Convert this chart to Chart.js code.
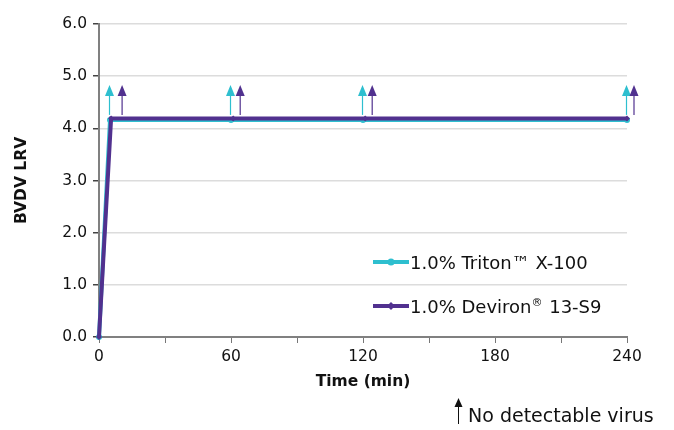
<!DOCTYPE html>
<html>
<head>
<meta charset="utf-8">
<script src="https://cdn.jsdelivr.net/npm/chart.js@4/dist/chart.umd.min.js"></script>
<style>
  html, body { margin: 0; padding: 0; background: #fff; }
  #wrap { width: 674px; height: 430px; }
</style>
</head>
<body>
<div id="wrap"><canvas id="lrvChart" width="674" height="430"></canvas></div>
<script>
// data
const timeTriton = [0, 5, 60, 120, 240];
const lrvTriton = [0, 4.16, 4.16, 4.16, 4.16];
const timeDeviron = [0, 5.5, 61, 121, 240];
const lrvDeviron = [0, 4.19, 4.19, 4.19, 4.19];
// time points where no virus was detected (arrows)
const arrowTimesTriton = [5, 60, 120, 240];
const arrowTimesDeviron = [5.5, 61, 121, 240];
const yTicks = [0, 1, 2, 3, 4, 5, 6];
const xLabels = [0, 60, 120, 180, 240];

const cyan = '#2ebfcf';
const purple = '#51318f';
const FONT = '"DejaVu Sans", Verdana, sans-serif';

function drawArrow(ctx, x, yBase, color) {
    ctx.save();
    ctx.strokeStyle = color;
    ctx.fillStyle = color;
    ctx.lineWidth = 1.2;
    ctx.beginPath();
    ctx.moveTo(x, yBase);
    ctx.lineTo(x, yBase - 20);
    ctx.stroke();
    ctx.beginPath();
    ctx.moveTo(x - 4.5, yBase - 19);
    ctx.lineTo(x + 4.5, yBase - 19);
    ctx.lineTo(x, yBase - 30);
    ctx.closePath();
    ctx.fill();
    ctx.restore();
}

// arrows, legend, axis titles and footnote
const extras = {
    id: 'extras',
    afterDatasetsDraw(chart) {
        const ctx = chart.ctx;
        const xs = chart.scales.x, ys = chart.scales.y;
        const base = ys.getPixelForValue(4.2) - 3;
        arrowTimesTriton.forEach(t => drawArrow(ctx, xs.getPixelForValue(t) - 0.5, base, cyan));
        arrowTimesDeviron.forEach((t, i) => drawArrow(ctx, xs.getPixelForValue(t) + (i === 0 ? 11 : 7), base, purple));

        ctx.save();
        // legend
        const items = [
            { parts: ['1.0% Triton\u2122 X-100'], color: cyan, y: 262, shape: 'circle' },
            { parts: ['1.0% Deviron', '\u00ae', ' 13-S9'], color: purple, y: 306, shape: 'diamond' }
        ];
        items.forEach(it => {
            ctx.strokeStyle = it.color;
            ctx.fillStyle = it.color;
            ctx.lineWidth = 4;
            ctx.beginPath();
            ctx.moveTo(373, it.y);
            ctx.lineTo(409, it.y);
            ctx.stroke();
            ctx.beginPath();
            if (it.shape === 'circle') {
                ctx.arc(391, it.y, 3.5, 0, Math.PI * 2);
            } else {
                ctx.moveTo(391, it.y - 4); ctx.lineTo(395, it.y); ctx.lineTo(391, it.y + 4); ctx.lineTo(387, it.y);
                ctx.closePath();
            }
            ctx.fill();
            ctx.fillStyle = '#111';
            ctx.textBaseline = 'alphabetic';
            ctx.textAlign = 'left';
            let x = 410;
            it.parts.forEach(p => {
                const sup = p === '\u00ae';
                ctx.font = (sup ? '11px ' : '18px ') + FONT;
                ctx.fillText(p, x, it.y + (sup ? 0 : 7));
                x += ctx.measureText(p).width + (sup ? 1 : 0);
            });
        });

        // axis titles
        ctx.fillStyle = '#111';
        ctx.font = 'bold 15.5px ' + FONT;
        ctx.textAlign = 'center';
        ctx.textBaseline = 'middle';
        ctx.fillText('Time (min)', (xs.left + xs.right) / 2, 382);
        ctx.save();
        ctx.translate(22, (ys.top + ys.bottom) / 2);
        ctx.rotate(-Math.PI / 2);
        ctx.fillText('BVDV LRV', 0, 0);
        ctx.restore();

        // footnote
        ctx.strokeStyle = '#111';
        ctx.fillStyle = '#111';
        ctx.lineWidth = 1;
        ctx.beginPath();
        ctx.moveTo(458.5, 424);
        ctx.lineTo(458.5, 404);
        ctx.stroke();
        ctx.beginPath();
        ctx.moveTo(454.5, 407); ctx.lineTo(462.5, 407); ctx.lineTo(458.5, 398);
        ctx.closePath();
        ctx.fill();
        ctx.font = '19px ' + FONT;
        ctx.textAlign = 'left';
        ctx.textBaseline = 'alphabetic';
        ctx.fillText('No detectable virus', 468, 422);
        ctx.restore();
    }
};

new Chart(document.getElementById('lrvChart').getContext('2d'), {
    type: 'line',
    data: {
        datasets: [
            {
                label: '1.0% Deviron\u00ae 13-S9',
                data: timeDeviron.map((t, i) => ({ x: t, y: lrvDeviron[i] })),
                borderColor: purple, backgroundColor: purple,
                borderWidth: 4, pointStyle: 'rectRot', pointRadius: 3, pointBorderWidth: 0,
                tension: 0, order: 1
            },
            {
                label: '1.0% Triton\u2122 X-100',
                data: timeTriton.map((t, i) => ({ x: t, y: lrvTriton[i] })),
                borderColor: cyan, backgroundColor: cyan,
                borderWidth: 4, pointStyle: 'circle', pointRadius: 3, pointBorderWidth: 0,
                tension: 0, order: 2
            }
        ]
    },
    options: {
        responsive: false,
        animation: false,
        clip: false,
        layout: { padding: { top: 24, right: 47, bottom: 0, left: 0 } },
        plugins: { legend: { display: false }, tooltip: { enabled: false } },
        scales: {
            x: {
                type: 'linear', min: 0, max: 240,
                afterBuildTicks: s => { s.ticks = [0, 30, 60, 90, 120, 150, 180, 210, 240].map(v => ({ value: v })); },
                afterFit: s => { s.height = 93; },
                ticks: {
                    autoSkip: false, maxRotation: 0, padding: 5,
                    color: '#111', font: { family: FONT, size: 15.5 },
                    callback: v => xLabels.includes(v) ? String(v) : ''
                },
                grid: { drawOnChartArea: false, tickLength: 6, color: '#777', tickColor: '#777' },
                border: { color: '#808080', width: 2 }
            },
            y: {
                min: 0, max: 6,
                afterBuildTicks: s => { s.ticks = yTicks.map(v => ({ value: v })); },
                afterFit: s => { s.width = 99; },
                ticks: {
                    padding: 6, color: '#111', font: { family: FONT, size: 15.5 },
                    callback: v => v.toFixed(1)
                },
                grid: { color: '#dcdcdc', tickLength: 6, tickColor: '#444', lineWidth: 1.5 },
                border: { color: '#808080', width: 2 }
            }
        }
    },
    plugins: [extras]
});
</script>
</body>
</html>
